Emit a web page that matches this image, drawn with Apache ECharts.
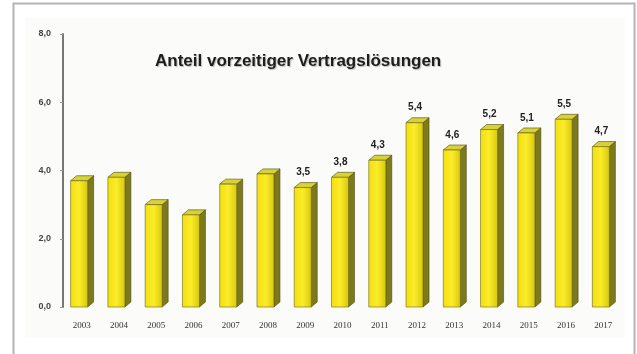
<!DOCTYPE html>
<html><head><meta charset="utf-8">
<script src="https://cdn.jsdelivr.net/npm/echarts@6/dist/echarts.min.js"></script>
<style>html,body{margin:0;padding:0;background:#fff}#c{width:637px;height:354px}</style>
</head><body><div id="c"></div>
<script>
var years = ['2003','2004','2005','2006','2007','2008','2009','2010','2011','2012','2013','2014','2015','2016','2017'];
var values = [3.7, 3.8, 3.0, 2.7, 3.6, 3.9, 3.5, 3.8, 4.3, 5.4, 4.6, 5.2, 5.1, 5.5, 4.7];
var labelled = [false,false,false,false,false,false,true,true,true,true,true,true,true,true,true];
var yTicks = [0, 2, 4, 6, 8];
var title = 'Anteil vorzeitiger Vertragslösungen';

var chart = echarts.init(document.getElementById('c'));
function fmt(v){ return v.toFixed(1).replace('.', ','); }
chart.setOption({
  animation: false,
  graphic: [
    {type:'rect', shape:{x:25, y:18, width:600, height:320}, style:{fill:'#fbfbf9'}, z:-10, silent:true},
    {type:'rect', shape:{x:13.5, y:3.5, width:621, height:360}, style:{fill:null, stroke:'#b4b4b4', lineWidth:2}, z:-5, silent:true},
    {type:'text', left:155, top:53, style:{text:title, font:'bold 17px "Liberation Sans", Arial, sans-serif', fill:'#1e1e1e', textShadowColor:'rgba(0,0,0,0.25)', textShadowOffsetX:1, textShadowOffsetY:1, textShadowBlur:1}}
  ],
  grid: {left:63, right:15, top:34, bottom:47},
  xAxis: {
    type:'category', data: years,
    axisLine:{show:false}, axisTick:{show:false},
    axisLabel:{color:'#333', fontSize:9, margin:14, fontFamily:'"Liberation Serif", serif'}
  },
  yAxis: {
    type:'value', min:0, max:8, interval:2,
    axisLine:{show:true, lineStyle:{color:'#777', width:2}},
    axisTick:{show:true, length:3, lineStyle:{color:'#999'}},
    splitLine:{show:false},
    axisLabel:{color:'#444', fontSize:9, fontWeight:'bold', margin:12, formatter:function(v){return fmt(v);}}
  },
  series: [{
    type:'custom',
    data: values.map(function(v,i){return [i, v];}),
    encode:{x:0, y:1},
    renderItem: function(params, api){
      var i = api.value(0), v = api.value(1);
      var top = api.coord([i, v]);
      var base = api.coord([i, 0]);
      var cx = top[0];
      var x0 = cx - 11, x1 = cx + 6;
      var dx = 6, dy = -5;
      var ty = top[1], by = base[1];
      var children = [
        {type:'polygon', shape:{points:[[x1,ty],[x1+dx,ty+dy],[x1+dx,by+dy],[x1,by]]},
          style:{fill:'#7d7a1e', stroke:'#4a4810', lineWidth:0.6}},
        {type:'polygon', shape:{points:[[x0,ty],[x0+dx,ty+dy],[x1+dx,ty+dy],[x1,ty]]},
          style:{fill:'#d9d236', stroke:'#4a4810', lineWidth:0.6}},
        {type:'rect', shape:{x:x0, y:ty, width:x1-x0, height:by-ty},
          style:{fill:new echarts.graphic.LinearGradient(0,0,1,0,[{offset:0,color:'#f2df10'},{offset:0.5,color:'#fbec2a'},{offset:1,color:'#d8c80c'}]), stroke:'#6b6614', lineWidth:0.6}}
      ];
      if (labelled[i]) {
        children.push({type:'text', style:{text:fmt(v), x:cx - 2, y:ty - 15, align:'center', verticalAlign:'middle',
          font:'bold 10px "Liberation Sans", Arial, sans-serif', fill:'#222',
          textShadowColor:'rgba(0,0,0,0.3)', textShadowOffsetX:1, textShadowOffsetY:1}});
      }
      return {type:'group', children: children};
    }
  }]
});
</script></body></html>
